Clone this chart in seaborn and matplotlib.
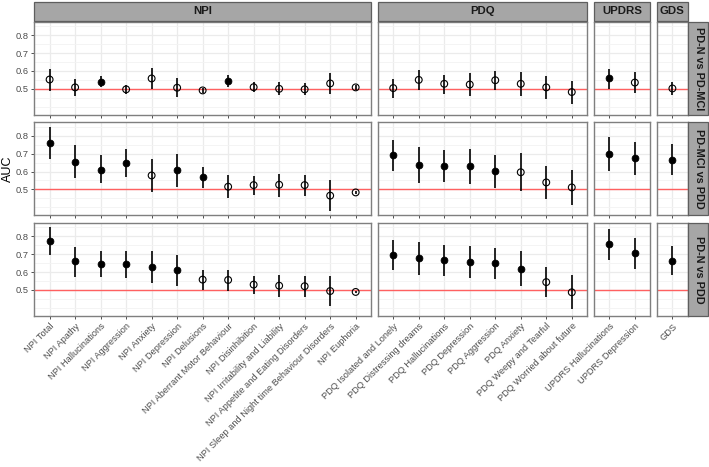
import numpy as np
import pandas as pd
import matplotlib
matplotlib.use("Agg")
import matplotlib.pyplot as plt
import seaborn as sns
from matplotlib.patches import Rectangle

# ---- measures per scale (column facets) ----
npi_labels = ["NPI Total", "NPI Apathy", "NPI Hallucinations", "NPI Aggression",
              "NPI Anxiety", "NPI Depression", "NPI Delusions",
              "NPI Aberrant Motor Behaviour", "NPI Disinhibition",
              "NPI Irritability and Liability", "NPI Appetite and Eating Disorders",
              "NPI Sleep and Night time Behaviour Disorders", "NPI Euphoria"]
pdq_labels = ["PDQ Isolated and Lonely", "PDQ Distressing dreams", "PDQ Hallucinations",
              "PDQ Depression", "PDQ Aggression", "PDQ Anxiety",
              "PDQ Weepy and Tearful", "PDQ Worried about future"]
updrs_labels = ["UPDRS Hallucinations", "UPDRS Depression"]
gds_labels = ["GDS"]

scales = ["NPI", "PDQ", "UPDRS", "GDS"]
scale_labels = [npi_labels, pdq_labels, updrs_labels, gds_labels]
comparisons = ["PD-N vs PD-MCI", "PD-MCI vs PDD", "PD-N vs PDD"]

# ---- AUC with 95% CI, order: NPI(13), PDQ(8), UPDRS(2), GDS(1) ----
auc_n_mci = [0.552, 0.508, 0.539, 0.497, 0.558, 0.506, 0.491, 0.543, 0.509, 0.500, 0.497, 0.530, 0.508,
             0.504, 0.550, 0.528, 0.524, 0.548, 0.528, 0.508, 0.482,
             0.559, 0.535,
             0.502]
lo_n_mci = [0.489, 0.461, 0.508, 0.471, 0.500, 0.452, 0.478, 0.508, 0.483, 0.463, 0.465, 0.470, 0.494,
            0.447, 0.491, 0.472, 0.461, 0.493, 0.461, 0.444, 0.413,
            0.500, 0.474,
            0.463]
hi_n_mci = [0.613, 0.556, 0.569, 0.522, 0.615, 0.558, 0.503, 0.578, 0.537, 0.537, 0.530, 0.587, 0.522,
            0.556, 0.607, 0.580, 0.587, 0.600, 0.593, 0.569, 0.546,
            0.613, 0.593,
            0.539]
sig_n_mci = [0, 0, 1, 0, 0, 0, 0, 1, 0, 0, 0, 0, 0,
             0, 0, 0, 0, 0, 0, 0, 0,
             1, 0,
             0]

auc_mci_pdd = [0.759, 0.656, 0.611, 0.648, 0.578, 0.607, 0.567, 0.515, 0.524, 0.526, 0.524, 0.465, 0.483,
               0.692, 0.639, 0.631, 0.629, 0.602, 0.596, 0.539, 0.511,
               0.700, 0.676,
               0.667]
lo_mci_pdd = [0.668, 0.565, 0.533, 0.570, 0.483, 0.515, 0.509, 0.450, 0.468, 0.459, 0.465, 0.378, 0.475,
              0.603, 0.537, 0.539, 0.531, 0.507, 0.491, 0.446, 0.415,
              0.603, 0.581,
              0.581]
hi_mci_pdd = [0.848, 0.746, 0.690, 0.724, 0.672, 0.696, 0.626, 0.579, 0.574, 0.587, 0.579, 0.550, 0.492,
              0.779, 0.739, 0.722, 0.726, 0.694, 0.702, 0.631, 0.607,
              0.796, 0.768,
              0.752]
sig_mci_pdd = [1, 1, 1, 1, 0, 1, 1, 0, 0, 0, 0, 0, 0,
               1, 1, 1, 1, 1, 0, 0, 0,
               1, 1,
               1]

auc_n_pdd = [0.776, 0.661, 0.647, 0.644, 0.628, 0.611, 0.558, 0.556, 0.530, 0.524, 0.521, 0.494, 0.489,
             0.697, 0.678, 0.669, 0.656, 0.650, 0.619, 0.544, 0.487,
             0.756, 0.708,
             0.665]
lo_n_pdd = [0.697, 0.572, 0.572, 0.569, 0.541, 0.524, 0.498, 0.497, 0.480, 0.461, 0.461, 0.411, 0.484,
            0.613, 0.585, 0.578, 0.565, 0.561, 0.520, 0.461, 0.393,
            0.669, 0.619,
            0.582]
hi_n_pdd = [0.852, 0.743, 0.720, 0.720, 0.717, 0.698, 0.613, 0.613, 0.578, 0.582, 0.576, 0.576, 0.495,
            0.780, 0.771, 0.754, 0.747, 0.735, 0.719, 0.630, 0.582,
            0.843, 0.793,
            0.744]
sig_n_pdd = [1, 1, 1, 1, 1, 1, 0, 0, 0, 0, 0, 0, 0,
             1, 1, 1, 1, 1, 1, 0, 0,
             1, 1,
             1]

series = {
    "PD-N vs PD-MCI": (auc_n_mci, lo_n_mci, hi_n_mci, sig_n_mci),
    "PD-MCI vs PDD": (auc_mci_pdd, lo_mci_pdd, hi_mci_pdd, sig_mci_pdd),
    "PD-N vs PDD": (auc_n_pdd, lo_n_pdd, hi_n_pdd, sig_n_pdd),
}

rows = []
for comp in comparisons:
    auc, lo, hi, sig = series[comp]
    i = 0
    for scale, labels in zip(scales, scale_labels):
        for pos, lab in enumerate(labels):
            rows.append(dict(comparison=comp, scale=scale, measure=lab, pos=pos,
                             auc=auc[i], lo=lo[i], hi=hi[i], sig=bool(sig[i])))
            i += 1
df = pd.DataFrame(rows)

# ---- style ----
sns.set_theme(style="white")
plt.rcParams["font.family"] = ["Liberation Sans", "DejaVu Sans"]

W, H = 709, 467
fig = plt.figure(figsize=(W / 100, H / 100), dpi=100)
gs = fig.add_gridspec(3, 4, width_ratios=[len(l) + 0.2 for l in scale_labels],
                      left=34.3 / W, right=687.7 / W, top=1 - 21.7 / H, bottom=1 - 316 / H,
                      wspace=0.044, hspace=0.08)

ylo = min(df["lo"]) - 0.05 * (max(df["hi"]) - min(df["lo"]))
yhi = max(df["hi"]) + 0.05 * (max(df["hi"]) - min(df["lo"]))

axes = [[None] * 4 for _ in range(3)]
for r, comp in enumerate(comparisons):
    for c, (scale, labels) in enumerate(zip(scales, scale_labels)):
        ax = fig.add_subplot(gs[r, c])
        axes[r][c] = ax
        sub = df[(df["comparison"] == comp) & (df["scale"] == scale)]

        ax.axhline(0.5, color="#FF6060", lw=1.0, zorder=1)
        ax.vlines(sub["pos"], sub["lo"], sub["hi"], color="black", lw=1.2, zorder=2)
        filled = sub[sub["sig"]]
        hollow = sub[~sub["sig"]]
        if len(filled):
            sns.scatterplot(data=filled, x="pos", y="auc", color="black", edgecolor="black",
                            s=24, linewidth=0.6, ax=ax, zorder=3)
        if len(hollow):
            sns.scatterplot(data=hollow, x="pos", y="auc", facecolor="none", edgecolor="black",
                            s=24, linewidth=0.8, ax=ax, zorder=3)

        ax.set_xlim(-0.6, len(labels) - 0.4)
        ax.set_ylim(ylo, yhi)
        ax.set_xlabel("")
        ax.set_ylabel("")
        ax.set_xticks(range(len(labels)))
        ax.set_yticks([0.5, 0.6, 0.7, 0.8])
        ax.set_yticks([0.4, 0.45, 0.55, 0.65, 0.75, 0.85], minor=True)
        ax.grid(which="major", color="#EBEBEB", lw=0.9)
        ax.grid(which="minor", axis="y", color="#F3F3F3", lw=0.6)
        ax.set_axisbelow(True)
        for sp in ax.spines.values():
            sp.set_color("#7F7F7F")
            sp.set_linewidth(1.0)
        ax.tick_params(which="major", length=2.5, width=0.6, color="#333333",
                       labelsize=6.7, labelcolor="#4D4D4D", pad=1.5,
                       bottom=True, left=True)
        ax.tick_params(which="minor", length=0)

        if r == 2:
            ax.set_xticklabels(labels, rotation=45, ha="right", va="top",
                               rotation_mode="anchor")
        else:
            ax.set_xticklabels([])
        if c != 0:
            ax.set_yticklabels([])
            ax.tick_params(axis="y", which="major", length=0)

# ---- facet strips ----
strip_fill = "#A6A6A6"
strip_edge = "#5E5E5E"
for c, scale in enumerate(scales):
    b = axes[0][c].get_position()
    fig.patches.append(Rectangle((b.x0, 1 - 20.7 / H), b.width, 19 / H,
                                 transform=fig.transFigure, facecolor=strip_fill,
                                 edgecolor=strip_edge, lw=0.9))
    fig.text(b.x0 + b.width / 2, 1 - 11.2 / H, scale, ha="center", va="center",
             fontsize=8.2, fontweight="bold", color="#1A1A1A")

for r, comp in enumerate(comparisons):
    b = axes[r][3].get_position()
    fig.patches.append(Rectangle((b.x1 + 0.6 / W, b.y0), 20 / W, b.height,
                                 transform=fig.transFigure, facecolor=strip_fill,
                                 edgecolor=strip_edge, lw=0.9))
    fig.text(b.x1 + 10.8 / W, b.y0 + b.height / 2, comp, ha="center", va="center",
             rotation=270, fontsize=7.8, fontweight="bold", color="#1A1A1A")

mid = axes[1][0].get_position()
fig.text(8 / W, mid.y0 + mid.height / 2, "AUC", rotation=90, ha="center", va="center",
         fontsize=9, color="black")

fig.savefig("out.png", dpi=100)
